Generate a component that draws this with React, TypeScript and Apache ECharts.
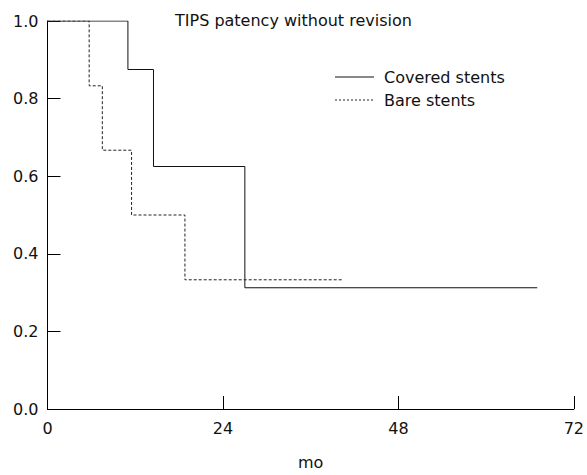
import React, { useEffect, useRef } from "react";
import * as echarts from "echarts";

const xTicks = [0, 24, 48, 72];
const coveredX = [0, 11, 14.5, 27, 67];
const coveredY = [1, 0.875, 0.625, 0.3125, 0.3125];
const bareX = [0, 5.7, 7.5, 11.5, 18.8, 40.4];
const bareY = [1, 0.833, 0.667, 0.5, 0.333, 0.333];
const legendNames = ["Covered stents", "Bare stents"];

const FONT = "DejaVu Sans";
const TXT = "#111";

export default function App() {
  const ref = useRef<HTMLDivElement>(null);
  useEffect(() => {
    const chart = echarts.init(ref.current!, null, { renderer: "svg" });
    chart.setOption({
      animation: false,
      backgroundColor: "#fff",
      textStyle: { fontFamily: FONT },
      title: {
        text: "TIPS patency without revision",
        left: 175,
        top: 12,
        padding: 0,
        textStyle: { fontFamily: FONT, fontSize: 16, fontWeight: "normal", color: TXT },
      },
      graphic: [
        {
          type: "line",
          shape: { x1: 335, y1: 77, x2: 374, y2: 77 },
          style: { stroke: "#111", lineWidth: 1 },
        },
        {
          type: "text",
          x: 384,
          y: 77,
          style: { text: legendNames[0], fontFamily: FONT, fontSize: 16, fill: TXT, verticalAlign: "middle" },
        },
        {
          type: "line",
          shape: { x1: 335, y1: 100, x2: 374, y2: 100 },
          style: { stroke: "#222", lineWidth: 1, lineDash: [2, 2] },
        },
        {
          type: "text",
          x: 384,
          y: 100,
          style: { text: legendNames[1], fontFamily: FONT, fontSize: 16, fill: TXT, verticalAlign: "middle" },
        },
      ],
      grid: { left: 47.5, right: 11.3, top: 21, bottom: 55, containLabel: false },
      xAxis: {
        type: "value",
        min: xTicks[0],
        max: xTicks[xTicks.length - 1],
        interval: 24,
        name: "mo",
        nameLocation: "middle",
        nameGap: 45,
        nameTextStyle: { fontFamily: FONT, fontSize: 16, color: TXT },
        axisLine: { show: true, lineStyle: { color: "#000", width: 1 } },
        axisTick: { show: true, inside: true, length: 13, lineStyle: { color: "#000" } },
        axisLabel: { fontFamily: FONT, fontSize: 16, color: TXT, margin: 11 },
        splitLine: { show: false },
      },
      yAxis: {
        type: "value",
        min: 0,
        max: 1,
        interval: 0.2,
        axisLine: { show: true, lineStyle: { color: "#000", width: 1 } },
        axisTick: { show: true, inside: true, length: 13, lineStyle: { color: "#000" } },
        axisLabel: {
          fontFamily: FONT,
          fontSize: 16,
          color: TXT,
          margin: 9,
          formatter: (v: number) => v.toFixed(1),
        },
        splitLine: { show: false },
      },
      series: [
        {
          name: legendNames[0],
          type: "line",
          step: "end",
          symbol: "none",
          data: coveredX.map((x, i) => [x, coveredY[i]]),
          lineStyle: { color: "#111", width: 1, type: "solid" },
        },
        {
          name: legendNames[1],
          type: "line",
          step: "end",
          symbol: "none",
          data: bareX.map((x, i) => [x, bareY[i]]),
          lineStyle: { color: "#222", width: 1, type: [3, 2] },
        },
      ],
    });
    return () => chart.dispose();
  }, []);
  return (
    <div
      ref={ref}
      style={{ position: "fixed", left: 0, top: 0, width: 587, height: 475, background: "#fff" }}
    />
  );
}
